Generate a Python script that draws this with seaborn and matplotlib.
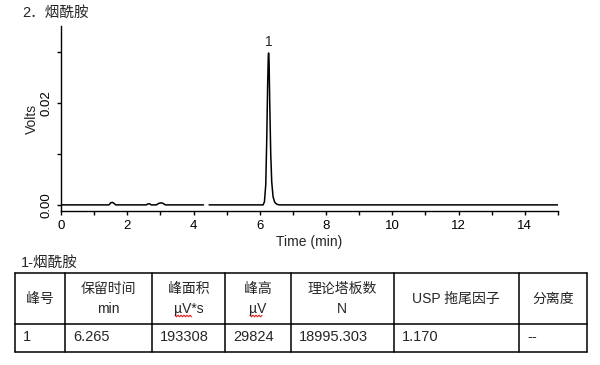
import numpy as np
import pandas as pd
import seaborn as sns
import matplotlib.pyplot as plt

# chromatogram trace (time in min, signal in volts)
seg1_time = [0.0, 1.45, 1.50, 1.55, 1.60, 1.65, 2.58, 2.62, 2.68, 2.72, 2.88, 2.95, 3.02, 3.08, 3.15, 4.30]
seg1_volt = [0.0, 0.0, 0.0004, 0.0005, 0.0003, 0.0, 0.0, 0.0002, 0.0002, 0.0, 0.0, 0.0003, 0.0004, 0.0003, 0.0, 0.0]
seg2_time = [4.47, 6.10, 6.14, 6.18, 6.21, 6.235, 6.255, 6.265, 6.28, 6.30, 6.33, 6.36, 6.40, 6.45, 6.52, 6.60, 15.0]
seg2_volt = [0.0, 0.0, 0.0006, 0.004, 0.013, 0.023, 0.0288, 0.0298, 0.0282, 0.020, 0.010, 0.0045, 0.0016, 0.0005, 0.0001, 0.0, 0.0]

peak_label = "1"
peak_time = 6.265
peak_height = 0.0298

title = "2．烟酰胺"
table_title = "1-烟酰胺"
headers = ["峰号", "保留时间\nmin", "峰面积\nµV*s", "峰高\nµV", "理论塔板数\nN", "USP 拖尾因子", "分离度"]
values = ["1", "6.265", "193308", "29824", "18995.303", "1.170", "--"]

sns.set_theme(style="ticks")
plt.rcParams['font.family'] = ['Liberation Sans', 'Noto Sans CJK SC']

df = pd.DataFrame({
    'time': seg1_time + seg2_time,
    'volt': seg1_volt + seg2_volt,
    'seg': [0] * len(seg1_time) + [1] * len(seg2_time),
})

fig = plt.figure(figsize=(6, 3.65), dpi=100)
W, H = 600, 365
ax = fig.add_axes([61 / W, 1 - 211 / H, 497 / W, 185 / H])

sns.lineplot(data=df, x='time', y='volt', units='seg', estimator=None, sort=False,
             color='black', lw=1.1, ax=ax, legend=False)

ax.set_xlim(0, 15)
ax.set_ylim(-0.0012, 0.0351)
ax.set_xticks(np.arange(0, 15, 2))
ax.set_xticks(np.arange(0, 16, 1), minor=True)
ax.set_yticks([0.0, 0.02])
ax.set_yticks([0.01, 0.03], minor=True)
ax.set_yticklabels(["0.00", "0.02"], rotation=90, va='center')
ax.tick_params(axis='both', which='both', length=3, width=1, colors='black', labelsize=9.5)
ax.tick_params(axis='x', pad=3.5)
ax.tick_params(axis='y', pad=3)
sns.despine(ax=ax)
for s in ('left', 'bottom'):
    ax.spines[s].set_linewidth(1)
    ax.spines[s].set_color('black')
ax.set_xlabel("Time (min)", fontsize=10, labelpad=2)
ax.set_ylabel("Volts", fontsize=10, labelpad=1)
ax.annotate(peak_label, (peak_time, peak_height), xytext=(0, 3), textcoords='offset points',
            ha='center', va='bottom', fontsize=10)

# overlay for title and result table, in pixel units
tax = fig.add_axes([0, 0, 1, 1], zorder=-1)
tax.set_xlim(0, W)
tax.set_ylim(H, 0)
tax.axis('off')
tax.text(22, 13, title, fontsize=10.5, va='center', ha='left')
tax.text(21, 263, table_title, fontsize=10.5, va='center', ha='left')

col_edges = [14.7, 65, 151.7, 225, 291, 393.7, 519, 586.7]
row_edges = [273.3, 324.3, 351.7]
for y in row_edges:
    tax.plot([col_edges[0], col_edges[-1]], [y, y], color='black', lw=1.1)
for x in col_edges:
    tax.plot([x, x], [row_edges[0], row_edges[-1]], color='black', lw=1.1)
for i, (h, v) in enumerate(zip(headers, values)):
    cx = (col_edges[i] + col_edges[i + 1]) / 2
    tax.text(cx, (row_edges[0] + row_edges[1]) / 2, h, fontsize=10, ha='center', va='center',
             linespacing=1.6)
    tax.text(col_edges[i] + 8, (row_edges[1] + row_edges[2]) / 2 - 1, v, fontsize=10.5,
             ha='left', va='center')

# red spell-check squiggles under the unit labels
for x0, x1 in [(175, 192), (250, 262)]:
    xs = np.arange(x0, x1 + 0.1, 1.5)
    ys = 316 + np.where(np.arange(len(xs)) % 2 == 0, -0.8, 0.8)
    tax.plot(xs, ys, color='#e02020', lw=0.8)

fig.savefig("out.png", dpi=100)
